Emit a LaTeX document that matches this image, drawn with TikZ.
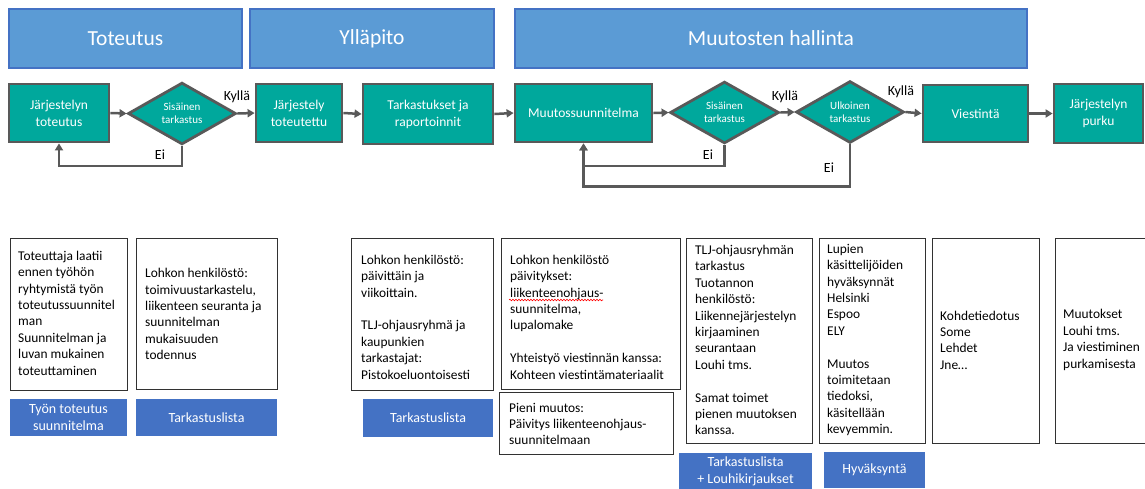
\documentclass[tikz,border=0pt]{standalone}
\usepackage{fontspec}
\setmainfont{Carlito}
\usetikzlibrary{shapes.geometric,arrows.meta,decorations.pathmorphing}
\definecolor{tealbox}{RGB}{0,168,156}
\definecolor{flowgray}{RGB}{89,89,89}
\definecolor{hdrfill}{RGB}{91,155,213}
\definecolor{hdrdraw}{RGB}{68,114,196}
\definecolor{lblfill}{RGB}{68,114,196}
\definecolor{boxdraw}{RGB}{50,50,50}
\begin{document}
\begin{tikzpicture}[x=1pt,y=-1pt,
  hdr/.style={draw=hdrdraw, line width=1.5pt, fill=hdrfill, text=white, inner sep=0pt,
    font=\fontsize{21.5}{26}\selectfont},
  flowbox/.style={draw=flowgray, line width=2.8pt, fill=tealbox, text=white, inner sep=0pt,
    align=center, font=\fontsize{13.5}{17}\selectfont},
  decide/.style={diamond, draw=flowgray, line width=2.8pt, fill=tealbox, text=white, inner sep=0pt,
    align=center, font=\fontsize{11}{13.5}\selectfont},
  flowarrow/.style={draw=flowgray, line width=2.5pt, -{Triangle[length=7pt,width=8pt]}},
  answer/.style={text=black, inner sep=0pt, font=\fontsize{14}{17}\selectfont},
  notebox/.style={draw=boxdraw, line width=1pt, fill=white, inner sep=0pt},
  notetext/.style={anchor=west, align=left, inner sep=0pt, text=black,
    font=\fontsize{13.4}{16.4}\selectfont},
  lbl/.style={fill=lblfill, text=white, inner sep=0pt, align=center,
    font=\fontsize{14}{17}\selectfont}
]
\useasboundingbox (0,0) rectangle (1145,488);

% headers
\node[hdr, minimum width=233, minimum height=59] (h1) at (125.5,38.5) {Toteutus};
\node[hdr, minimum width=244, minimum height=59] (h2) at (372,38.5) {Ylläpito};
\node[hdr, minimum width=512, minimum height=59] (h3) at (771,38.5) {Muutosten hallinta};

% flow
\node[flowbox, minimum width=100, minimum height=58] (b1) at (59,113) {Järjestelyn\\toteutus};
\node[decide, minimum width=108, minimum height=59] (d1) at (182,113.5) {Sisäinen\\tarkastus};
\node[flowbox, minimum width=86, minimum height=58] (b2) at (299,113) {Järjestely\\toteutettu};
\node[flowbox, minimum width=130, minimum height=60] (b3) at (428,114) {Tarkastukset ja\\raportoinnit};
\node[flowbox, minimum width=137, minimum height=58] (m) at (583.5,113) {Muutossuunnitelma};
\node[decide, minimum width=109, minimum height=59] (d2) at (724.5,112.5) {Sisäinen\\tarkastus};
\node[decide, minimum width=108, minimum height=58] (d3) at (850,112) {Ulkoinen\\tarkastus};
\node[flowbox, minimum width=105, minimum height=57] (v) at (975.5,113.5) {Viestintä};
\node[flowbox, minimum width=89, minimum height=59] (p) at (1098.5,113.5) {Järjestelyn\\purku};

\draw[flowarrow] (b1.east) -- (d1.west);
\draw[flowarrow] (d1.east) -- (b2.west);
\draw[flowarrow] (b2.east) -- (b3.west);
\draw[flowarrow] (b3.east) -- (m.west);
\draw[flowarrow] (m.east) -- (d2.west);
\draw[flowarrow] (d2.east) -- (d3.west);
\draw[flowarrow] (d3.east) -- (v.west);
\draw[flowarrow] (v.east) -- (p.west);

\draw[flowarrow] (d1.south) -- ++(0,20) -| (b1.south);
\draw[flowarrow] (d2.south) -- ++(0,21) -| (m.south);
\draw[flowarrow] (d3.south) -- ++(0,42) -| (m.south);

\node[answer] (k1) at (237,97) {Kyllä};
\node[answer] (k2) at (785,97) {Kyllä};
\node[answer] (k3) at (901,92) {Kyllä};
\node[answer] (e1) at (160,155) {Ei};
\node[answer] (e2) at (708,155) {Ei};
\node[answer] (e3) at (829,168) {Ei};

% note boxes
\node[notebox, minimum width=117, minimum height=152] (nA) at (68.5,314) {};
\node[notetext] (tA) at (18,313) {Toteuttaja laatii\\ennen työhön\\ryhtymistä työn\\toteutussuunnitel\\man\\Suunnitelman ja\\luvan mukainen\\toteuttaminen};
\node[notebox, minimum width=141, minimum height=151] (nB) at (206.5,313.5) {};
\node[notetext] (tB) at (145,314) {Lohkon henkilöstö:\\toimivuustarkastelu,\\liikenteen seuranta ja\\suunnitelman\\mukaisuuden\\todennus};
\node[notebox, minimum width=142, minimum height=152] (nC) at (422,314) {};
\node[notetext] (tC) at (361,317) {Lohkon henkilöstö:\\päivittäin ja\\viikoittain.\\[16.4pt]TLJ-ohjausryhmä ja\\kaupunkien\\tarkastajat:\\Pistokoeluontoisesti};
\node[notebox, minimum width=179, minimum height=151] (nD) at (590.5,313.5) {};
\node[notetext] (tD) at (510,317) {Lohkon henkilöstö\\päivitykset:\\liikenteenohjaus-\\suunnitelma,\\lupalomake\\[16.4pt]Yhteistyö viestinnän kanssa:\\Kohteen viestintämateriaalit};
\draw[red, line width=0.6pt, decorate, decoration={snake, amplitude=0.8pt, segment length=3pt}] (509,300) -- (603,300);
\node[notebox, minimum width=174, minimum height=62] (nP) at (586,423) {};
\node[notetext] (tP) at (509,424) {Pieni muutos:\\Päivitys liikenteenohjaus-\\suunnitelmaan};
\node[notebox, minimum width=126, minimum height=205] (nE) at (749,340.5) {};
\node[notetext] (tE) at (695,340) {TLJ-ohjausryhmän\\tarkastus\\Tuotannon\\henkilöstö:\\Liikennejärjestelyn\\kirjaaminen\\seurantaan\\Louhi tms.\\[16.4pt]Samat toimet\\pienen muutoksen\\kanssa.};
\node[notebox, minimum width=106, minimum height=205] (nF) at (872,340.5) {};
\node[notetext] (tF) at (827,340) {Lupien\\käsittelijöiden\\hyväksynnät\\Helsinki\\Espoo\\ELY\\[16.4pt]Muutos\\toimitetaan\\tiedoksi,\\käsitellään\\kevyemmin.};
\node[notebox, minimum width=107, minimum height=205] (nG) at (985.5,340.5) {};
\node[notetext] (tG) at (940,340) {Kohdetiedotus\\Some\\Lehdet\\Jne…};
\node[notebox, minimum width=95, minimum height=205] (nH) at (1102.5,340.5) {};
\node[notetext] (tH) at (1063,340) {Muutokset\\Louhi tms.\\Ja viestiminen\\purkamisesta};

% blue labels
\node[lbl, minimum width=117, minimum height=37] (lA) at (68.5,417.5) {Työn toteutus\\suunnitelma};
\node[lbl, minimum width=141, minimum height=37] (lB) at (206.5,417.5) {Tarkastuslista};
\node[lbl, minimum width=130, minimum height=38] (lC) at (428,418) {Tarkastuslista};
\node[lbl, minimum width=133, minimum height=37] (lE) at (745.5,471.5) {Tarkastuslista\\+ Louhikirjaukset};
\node[lbl, minimum width=101, minimum height=36] (lF) at (874.5,470) {Hyväksyntä};
\end{tikzpicture}
\end{document}
